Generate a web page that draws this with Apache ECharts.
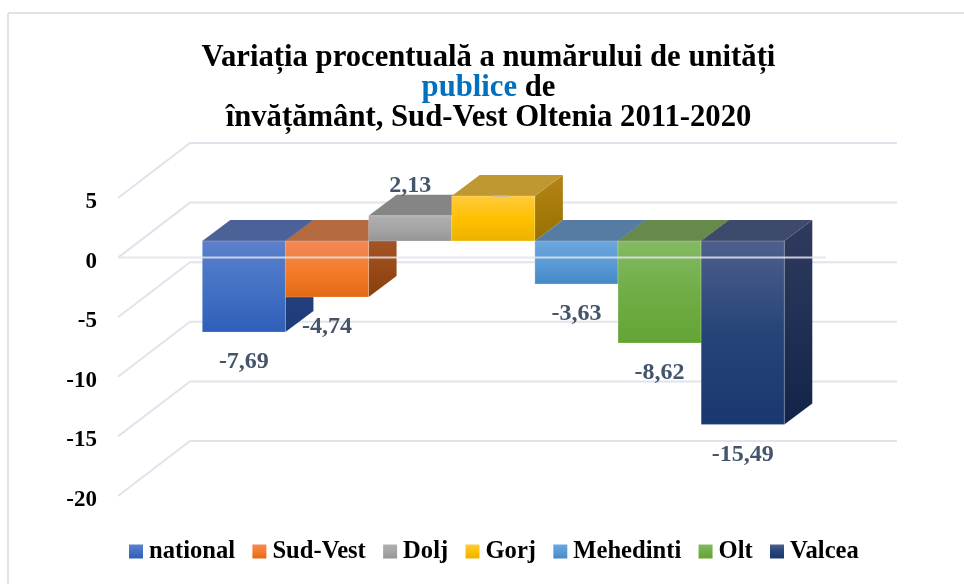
<!DOCTYPE html>
<html>
<head>
<meta charset="utf-8">
<style>html,body{margin:0;padding:0;background:#fff}#c{width:964px;height:584px}</style>
<script src="https://cdn.jsdelivr.net/npm/echarts@6/dist/echarts.min.js"></script>
</head>
<body>
<div id="c"></div>
<script>
const categories = ['national','Sud-Vest','Dolj','Gorj','Mehedinti','Olt','Valcea'];
const values = [-7.69,-4.74,2.13,3.8,-3.63,-8.62,-15.49];
const valueLabels = ['-7,69','-4,74','2,13','','-3,63','-8,62','-15,49'];
const tickValues = [5,0,-5,-10,-15,-20];
const frontStops = [
  ['#5c80cc','#4472c4','#2e5fb8'],
  ['#f2895a','#f67c2a','#e26a16'],
  ['#b0b0b0','#a5a5a5','#959595'],
  ['#ffcb3d','#ffc000','#ecb200'],
  ['#6ba6de','#5b9bd5','#438ac8'],
  ['#85ba63','#70ad47','#64a434'],
  ['#4f5f8c','#264478','#1a386f']
];
const topColors = ['#4a6298','#b56a40','#858585','#bf9832','#577ca4','#658a4c','#3e4a6b'];
const sideStops = [
  ['#2a4785','#1e3c78'],
  ['#ad5c2e','#8a3f0b'],
  ['#7c7c7c','#666666'],
  ['#b48416','#977200'],
  ['#3e6c96','#2d5a86'],
  ['#4f7a32','#3f6a24'],
  ['#2f3b5e','#12244a']
];
const barDepth = {dx:28, dy:-21};
const wallDepth = {dx:72, dy:-55};
const wallBackWidth = 707;
const font = '"Liberation Serif","Times New Roman",serif';
const G = echarts.graphic;
const grad = (s)=> new G.LinearGradient(0,0,0,1,s.map((c,i)=>({offset:i/(s.length-1),color:c})));

function poly(points, fill, z2){
  return {type:'polygon', z2:z2||0, shape:{points}, style:{fill, stroke:null}};
}
function barRender(idx){
  return function(params, api){
    const v = api.value(1);
    const band = api.size([1,0])[0];
    const c = api.coord([api.value(0), 0]);
    const e = api.coord([api.value(0), v]);
    const x0 = c[0]-band/2, x1 = c[0]+band/2;
    const yt = Math.min(c[1],e[1]), yb = Math.max(c[1],e[1]);
    const dx = barDepth.dx, dy = barDepth.dy;
    const children = [
      poly([[x1,yt],[x1+dx,yt+dy],[x1+dx,yb+dy],[x1,yb]], grad(sideStops[idx])),
      poly([[x0,yt],[x0+dx,yt+dy],[x1+dx,yt+dy],[x1,yt]], topColors[idx]),
      {type:'rect', shape:{x:x0,y:yt,width:band,height:yb-yt},
       style:{fill:grad(frontStops[idx]), stroke:'rgba(255,255,255,0.22)', lineWidth:1}}
    ];
    if (valueLabels[idx]) {
      children.push({type:'text', z2:5, style:{
        text:valueLabels[idx], x:c[0], y: v<0 ? yb+30 : yt-30,
        align:'center', verticalAlign:'middle',
        fontFamily:font, fontWeight:'bold', fontSize:24, fill:'#44546a'}});
    } else {
      children.push({type:'line', z2:5, shape:{x1:c[0],y1:yt,x2:c[0]+16,y2:yt},
        style:{stroke:'#b4b7ba', lineWidth:1.5}});
    }
    return {type:'group', children};
  };
}
const barSeries = categories.map((name,i)=>({
  name, type:'custom', xAxisIndex:1, yAxisIndex:1, z:5,
  itemStyle:{color:grad(frontStops[i])},
  data:[[i, values[i]]],
  renderItem:barRender(i),
  silent:true
}));
const wallSeries = {
  type:'custom', xAxisIndex:0, yAxisIndex:0, z:1, silent:true,
  data:tickValues.map(v=>[0,v]),
  renderItem(params, api){
    const p = api.coord([0, api.value(1)]);
    const bx = p[0]+wallDepth.dx, by = p[1]+wallDepth.dy;
    return {type:'polyline', shape:{points:[[p[0],p[1]],[bx,by],[bx+wallBackWidth,by]]},
      style:{fill:null, stroke:'#e1e4ec', lineWidth:2}};
  }
};
const zeroSeries = {
  type:'custom', xAxisIndex:0, yAxisIndex:0, z:9, silent:true,
  data:[[0,0]],
  renderItem(params, api){
    const a = api.coord([0,0]), b = api.coord([1,0]);
    return {type:'line', shape:{x1:a[0],y1:a[1],x2:b[0],y2:b[1]},
      style:{stroke:'rgba(225,228,236,0.85)', lineWidth:2}};
  }
};
const titleText = '{a|Variația procentuală a numărului de unități}\n{b|publice}{a| de}\n{a|învățământ, Sud-Vest Oltenia 2011-2020}';
const chart = echarts.init(document.getElementById('c'), null, {renderer:'canvas'});
chart.setOption({
  animation:false,
  backgroundColor:'#ffffff',
  title:{
    left:483.5, top:38, textAlign:'center',
    text:titleText,
    textStyle:{
      rich:{
        a:{fontFamily:font,fontWeight:'bold',fontSize:30.7,color:'#000',lineHeight:30},
        b:{fontFamily:font,fontWeight:'bold',fontSize:30.7,color:'#0070c0',lineHeight:30}
      }
    }
  },
  legend:{
    left:129, top:539, padding:0, itemWidth:14, itemHeight:14, itemGap:17.3,
    icon:'rect',
    data:categories,
    textStyle:{fontFamily:font,fontWeight:'bold',fontSize:24.6,color:'#000',padding:[0,0,0,1]},
    selectedMode:false
  },
  tooltip:{show:false},
  graphic:[
    {type:'line', silent:true, shape:{x1:8,y1:13,x2:964,y2:13}, style:{stroke:'#e0e4ea',lineWidth:2}},
    {type:'line', silent:true, shape:{x1:8,y1:13,x2:8,y2:584}, style:{stroke:'#e0e4ea',lineWidth:2}}
  ],
  grid:[
    {left:118, width:708, top:198, height:298},
    {left:202.3, width:582, top:181.8, height:296}
  ],
  xAxis:[
    {gridIndex:0, type:'value', min:0, max:1, show:false},
    {gridIndex:1, type:'category', data:categories, show:false}
  ],
  yAxis:[
    {gridIndex:0, type:'value', min:-20, max:5, interval:5,
     axisLine:{show:false}, axisTick:{show:false}, splitLine:{show:false},
     axisLabel:{margin:21, formatter:'{v|{value}}',
       rich:{v:{color:'#000', fontFamily:font, fontWeight:'bold', fontSize:23, padding:[8,0,0,0]}}}},
    {gridIndex:1, type:'value', min:-20, max:5, interval:5, show:false}
  ],
  series:[wallSeries].concat(barSeries,[zeroSeries])
});
</script>
</body>
</html>
